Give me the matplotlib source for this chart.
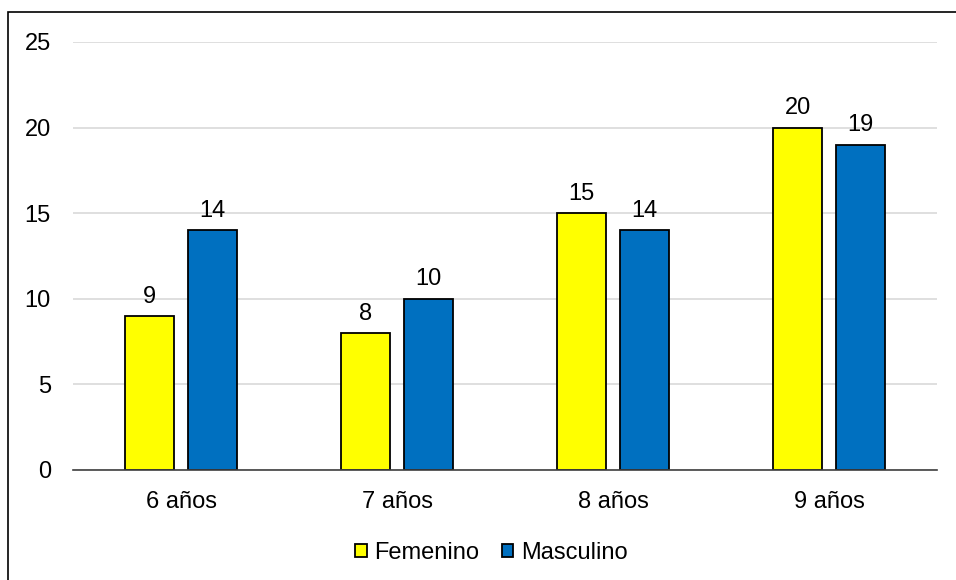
import matplotlib.pyplot as plt
import numpy as np
from matplotlib.patches import Rectangle

plt.rcParams['font.family'] = ['Liberation Sans', 'DejaVu Sans']

categories = ['6 años', '7 años', '8 años', '9 años']
femenino = [9, 8, 15, 20]
masculino = [14, 10, 14, 19]
y_ticks = [0, 5, 10, 15, 20, 25]

fig = plt.figure(figsize=(9.56, 5.8), dpi=100)
ax = fig.add_axes([0.0764, 0.1897, 0.904, 0.738])

x = np.arange(len(categories))
w = 0.227
off = 0.145
b1 = ax.bar(x - off, femenino, w, color='#FFFF00', edgecolor='black', linewidth=1.3,
            label='Femenino', zorder=3)
b2 = ax.bar(x + off, masculino, w, color='#0070C0', edgecolor='black', linewidth=1.3,
            label='Masculino', zorder=3)
ax.bar_label(b1, padding=6, fontsize=17)
ax.bar_label(b2, padding=6, fontsize=17)

ax.set_xlim(-0.5, len(categories) - 0.5)
ax.set_ylim(0, 25)
ax.set_yticks(y_ticks)
ax.set_xticks(x)
ax.set_xticklabels(categories)
ax.tick_params(axis='both', length=0, labelsize=17)
ax.tick_params(axis='x', pad=15)
ax.tick_params(axis='y', pad=16)
ax.yaxis.grid(True, color='#d9d9d9', linewidth=1.2, zorder=0)
for s in ['top', 'right', 'left']:
    ax.spines[s].set_visible(False)
ax.spines['bottom'].set_color('#404040')
ax.spines['bottom'].set_linewidth(1.2)
ax.spines['bottom'].set_zorder(4)

fig.legend(handles=[b1, b2], loc='center', bbox_to_anchor=(0.514, 0.047), ncol=2,
           frameon=False, fontsize=17, handlelength=0.48, handleheight=0.48,
           handletextpad=0.33, columnspacing=0.95)

fig.patches.append(Rectangle((8 / 956, -0.1), 1.2, 1 - 12 / 580 + 0.1,
                             transform=fig.transFigure, fill=False,
                             edgecolor='black', linewidth=1.2))

fig.savefig('out.png', dpi=100)
